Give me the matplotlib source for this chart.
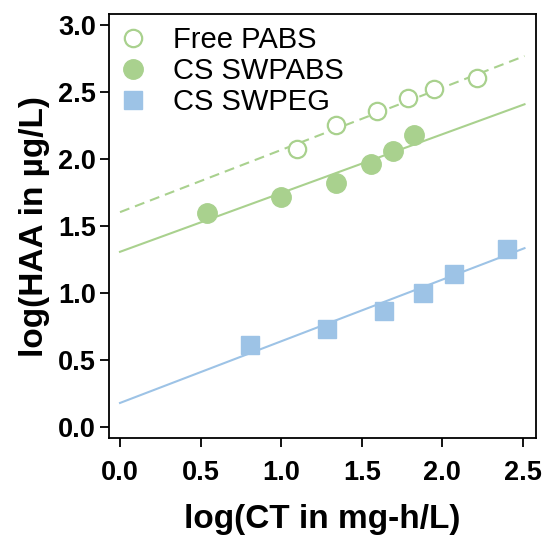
import matplotlib
matplotlib.use("Agg")
import matplotlib.pyplot as plt

plt.rcParams["font.family"] = ["Liberation Sans", "DejaVu Sans"]

# data
free_x = [1.096, 1.343, 1.594, 1.785, 1.947, 2.217]
free_y = [2.074, 2.253, 2.358, 2.452, 2.522, 2.602]
swpabs_x = [0.54, 0.996, 1.339, 1.557, 1.691, 1.822]
swpabs_y = [1.594, 1.718, 1.822, 1.962, 2.061, 2.178]
swpeg_x = [0.809, 1.283, 1.636, 1.882, 2.071, 2.40]
swpeg_y = [0.610, 0.730, 0.864, 1.003, 1.140, 1.326]

# trend line end points
fit_x = [0.0, 2.51]
free_fit = [1.603, 2.768]
swpabs_fit = [1.307, 2.408]
swpeg_fit = [0.179, 1.334]

green = "#a9d18e"
blue = "#9dc3e6"

fig = plt.figure(figsize=(5.48, 5.37), dpi=100)
ax = fig.add_axes([0.199, 0.184, 0.779, 0.79])

ax.plot(fit_x, free_fit, color=green, lw=1.5, ls=(0, (4.8, 2.9)))
ax.plot(fit_x, swpabs_fit, color=green, lw=1.5)
ax.plot(fit_x, swpeg_fit, color=blue, lw=1.5)

ax.plot(free_x, free_y, "o", ms=12.5, mfc="white", mec=green, mew=1.6,
        ls="none", label="Free PABS")
ax.plot(swpabs_x, swpabs_y, "o", ms=14, color=green, ls="none", label="CS SWPABS")
ax.plot(swpeg_x, swpeg_y, "s", ms=13, color=blue, ls="none", label="CS SWPEG")

ax.set_xlim(-0.068, 2.581)
ax.set_ylim(-0.084, 3.082)
ax.set_xticks([0.0, 0.5, 1.0, 1.5, 2.0, 2.5])
ax.set_yticks([0.0, 0.5, 1.0, 1.5, 2.0, 2.5, 3.0])
ax.set_xticklabels(["0.0", "0.5", "1.0", "1.5", "2.0", "2.5"])
ax.set_yticklabels(["0.0", "0.5", "1.0", "1.5", "2.0", "2.5", "3.0"])
ax.tick_params(direction="out", length=6.5, width=1.3, labelsize=19.5)
ax.tick_params(axis="x", pad=9)
ax.tick_params(axis="y", pad=3)
for lab in ax.get_xticklabels() + ax.get_yticklabels():
    lab.set_fontweight("bold")
for sp in ax.spines.values():
    sp.set_linewidth(1.3)

ax.set_xlabel("log(CT in mg-h/L)", fontsize=24, fontweight="bold", labelpad=13)
ax.set_ylabel("log(HAA in µg/L)", fontsize=24, fontweight="bold", labelpad=6)

ax.legend(loc="upper left", frameon=False, fontsize=21, handletextpad=0.95,
          borderaxespad=0.0, borderpad=0.4, labelspacing=0.1, handlelength=0.85,
          bbox_to_anchor=(0.0, 0.998))

fig.savefig("out.png", dpi=100)
